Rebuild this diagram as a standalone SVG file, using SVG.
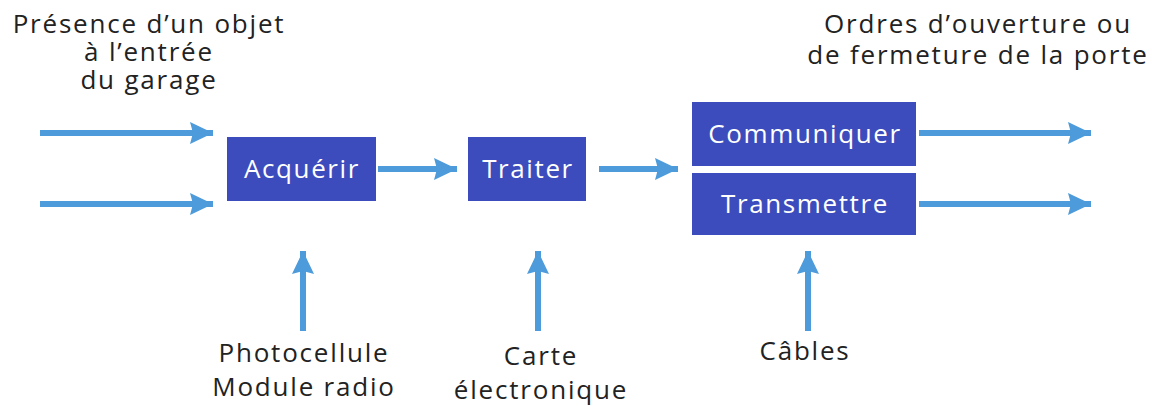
<svg xmlns="http://www.w3.org/2000/svg" width="1152" height="406" viewBox="0 0 1152 406">
<defs>
<style>
.box{fill:#3c4cbd}
.bt{fill:#ffffff;font-family:"Open Sans","Noto Sans",sans-serif;font-size:26px;letter-spacing:1.6px;text-anchor:middle}
.lb{fill:#222222;font-family:"Open Sans","Noto Sans",sans-serif;font-size:26px;letter-spacing:1.8px;text-anchor:middle}
.ar{stroke:#4d9bda;stroke-width:6;fill:none;marker-end:url(#ah)}
</style>
<marker id="ah" markerUnits="userSpaceOnUse" markerWidth="24" markerHeight="22" refX="23" refY="11" orient="auto">
<polygon points="0,0 23,11 0,22 3,11" fill="#4d9bda"/>
</marker>
</defs>
<rect width="1152" height="406" fill="#ffffff"/>
<g id="connectors">
<path class="ar" d="M40 133H213"/>
<path class="ar" d="M40 204H213"/>
<path class="ar" d="M378 169H457"/>
<path class="ar" d="M599 169H678"/>
<path class="ar" d="M919 133H1091"/>
<path class="ar" d="M919 204H1091"/>
<path class="ar" d="M303 331V251"/>
<path class="ar" d="M538 331V251"/>
<path class="ar" d="M808 331V251"/>
</g>
<g id="acquerir"><rect class="box" x="227" y="137" width="149" height="64"/><text class="bt" x="302" y="178">Acquérir</text></g>
<g id="traiter"><rect class="box" x="468" y="137" width="118" height="64"/><text class="bt" x="528" y="178">Traiter</text></g>
<g id="communiquer"><rect class="box" x="692" y="102" width="224" height="64"/><text class="bt" x="805" y="143">Communiquer</text></g>
<g id="transmettre"><rect class="box" x="692" y="173" width="224" height="62"/><text class="bt" x="805" y="213">Transmettre</text></g>
<g id="entree"><text class="lb"><tspan x="149" y="33">Présence d’un objet</tspan><tspan x="149" y="61">à l’entrée</tspan><tspan x="149" y="89">du garage</tspan></text></g>
<g id="sortie"><text class="lb"><tspan x="978" y="33">Ordres d’ouverture ou</tspan><tspan x="978" y="64">de fermeture de la porte</tspan></text></g>
<g id="capteurs"><text class="lb"><tspan x="304" y="362">Photocellule</tspan><tspan x="304" y="396">Module radio</tspan></text></g>
<g id="carte"><text class="lb"><tspan x="541" y="365">Carte</tspan><tspan x="541" y="399">électronique</tspan></text></g>
<g id="cables"><text class="lb" x="805" y="360">Câbles</text></g>
</svg>
